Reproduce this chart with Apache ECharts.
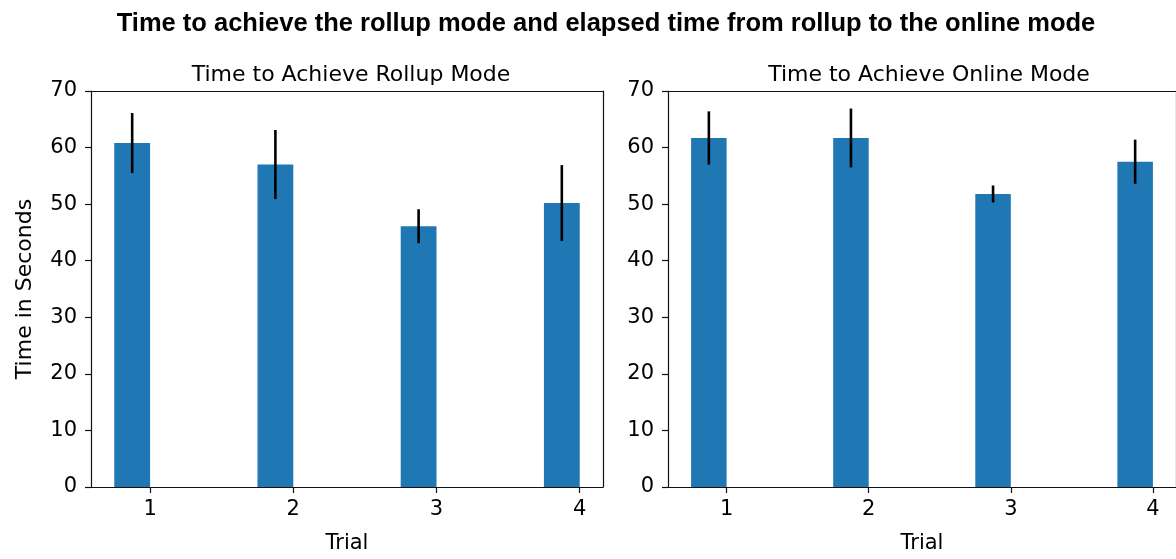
<!DOCTYPE html>
<html>
<head>
<meta charset="utf-8">
<script src="https://cdn.jsdelivr.net/npm/echarts@6/dist/echarts.min.js"></script>
<style>html,body{margin:0;padding:0;background:#fff}#c{width:1176px;height:559px}</style>
</head>
<body>
<div id="c"></div>
<script>
const trials = [1, 2, 3, 4];
const rollupMean = [60.8, 57.0, 46.1, 50.2];
const rollupErr = [5.3, 6.1, 3.0, 6.7];
const onlineMean = [61.7, 61.7, 51.8, 57.5];
const onlineErr = [4.7, 5.2, 1.5, 3.9];
const yTicks = [0, 10, 20, 30, 40, 50, 60, 70];
const mainTitle = 'Time to achieve the rollup mode and elapsed time from rollup to the online mode';
const leftTitle = 'Time to Achieve Rollup Mode';
const rightTitle = 'Time to Achieve Online Mode';
const xName = 'Trial';
const yName = 'Time in Seconds';

const BAR_W = 0.25;
const BLUE = '#1f77b4';
const FONT = 'DejaVu Sans';
const FS = 21;

const chart = echarts.init(document.getElementById('c'), null, {renderer: 'canvas'});

function xAxis(gridIndex) {
  return {
    type: 'value', gridIndex, min: 0.5875, max: 4.1625,
    name: xName, nameLocation: 'middle', nameGap: 46,
    nameTextStyle: {fontFamily: FONT, fontSize: FS, color: '#000'},
    axisLine: {show: true, lineStyle: {color: '#111', width: 1.2}},
    axisTick: {show: true, customValues: trials, length: 6, lineStyle: {color: '#111', width: 1.2}},
    axisLabel: {show: true, customValues: trials, fontFamily: FONT, fontSize: FS, color: '#000', margin: 12},
    splitLine: {show: false}
  };
}
function xTopAxis(gridIndex) {
  return {type: 'value', gridIndex, position: 'top', min: 0.5875, max: 4.1625,
    axisLine: {show: true, onZero: false, lineStyle: {color: '#111', width: 1.2}},
    axisTick: {show: false}, axisLabel: {show: false}, splitLine: {show: false}};
}
function yAxis(gridIndex, withName) {
  return {
    type: 'value', gridIndex, min: yTicks[0], max: yTicks[yTicks.length - 1], interval: 10,
    name: withName ? yName : '', nameLocation: 'middle', nameGap: 55,
    nameTextStyle: {fontFamily: FONT, fontSize: 22, color: '#000'},
    axisLine: {show: true, lineStyle: {color: '#111', width: 1.2}},
    axisTick: {show: true, length: 6, lineStyle: {color: '#111', width: 1.2}},
    axisLabel: {fontFamily: FONT, fontSize: FS, color: '#000', margin: 14},
    splitLine: {show: false}
  };
}
function yRightAxis(gridIndex) {
  return {type: 'value', gridIndex, position: 'right', min: 0, max: 70,
    axisLine: {show: true, onZero: false, lineStyle: {color: '#111', width: 1.2}},
    axisTick: {show: false}, axisLabel: {show: false}, splitLine: {show: false}};
}

function barItem(params, api) {
  const x = api.value(0), y = api.value(1);
  const p0 = api.coord([x - BAR_W, y]);
  const p1 = api.coord([x, 0]);
  return {type: 'rect', shape: {x: p0[0], y: p0[1], width: p1[0] - p0[0], height: p1[1] - p0[1]},
    style: {fill: BLUE}};
}
function errItem(params, api) {
  const x = api.value(0) - BAR_W / 2, y = api.value(1), e = api.value(2);
  const a = api.coord([x, y - e]);
  const b = api.coord([x, y + e]);
  return {type: 'line', shape: {x1: a[0], y1: a[1], x2: b[0], y2: b[1]},
    style: {stroke: '#000', lineWidth: 2.6}};
}
function seriesFor(idx, means, errs) {
  const data = trials.map((t, i) => [t, means[i], errs[i]]);
  return [
    {type: 'custom', xAxisIndex: idx * 2, yAxisIndex: idx * 2, renderItem: barItem, data, encode: {x: 0, y: 1}, z: 2},
    {type: 'custom', xAxisIndex: idx * 2, yAxisIndex: idx * 2, renderItem: errItem, data, encode: {x: 0, y: 1}, z: 3}
  ];
}

chart.setOption({
  animation: false,
  backgroundColor: '#fff',
  title: [
    {text: mainTitle, left: 601, top: 6, textAlign: 'center',
      textStyle: {fontFamily: 'Liberation Sans Narrow, Liberation Sans', fontWeight: 'bold', fontSize: 25.5, color: '#000'}},
    {text: leftTitle, left: 346, top: 59, textAlign: 'center',
      textStyle: {fontFamily: FONT, fontWeight: 'normal', fontSize: 22, color: '#000'}},
    {text: rightTitle, left: 924, top: 59, textAlign: 'center',
      textStyle: {fontFamily: FONT, fontWeight: 'normal', fontSize: 22, color: '#000'}}
  ],
  grid: [
    {left: 91, top: 91, width: 512, height: 399},
    {left: 668, top: 91, width: 511, height: 399}
  ],
  xAxis: [xAxis(0), xTopAxis(0), xAxis(1), xTopAxis(1)],
  yAxis: [yAxis(0, true), yRightAxis(0), yAxis(1, false), yRightAxis(1)],
  series: [...seriesFor(0, rollupMean, rollupErr), ...seriesFor(1, onlineMean, onlineErr)]
});
</script>
</body>
</html>
